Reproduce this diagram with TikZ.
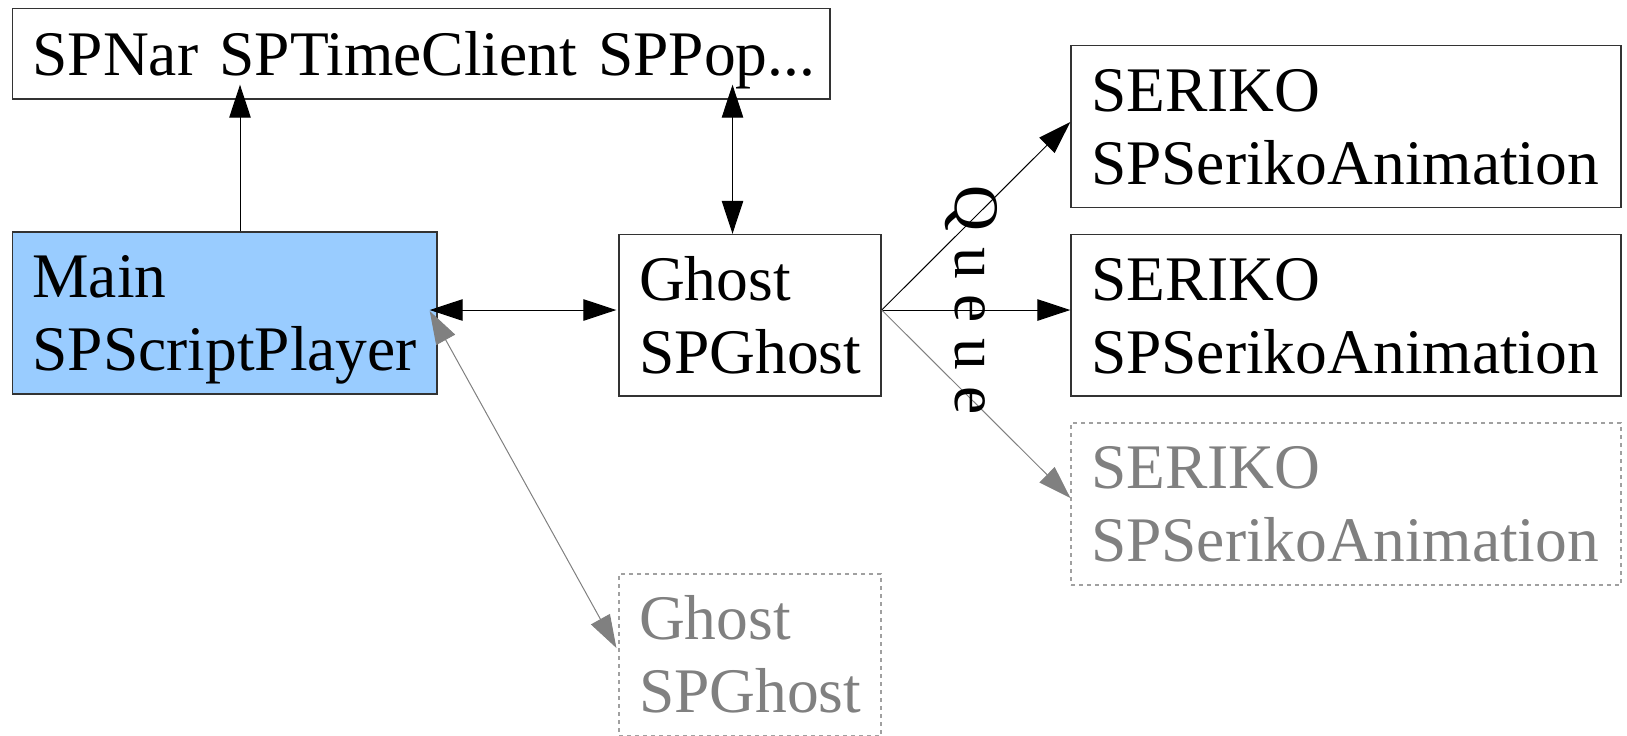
\documentclass[tikz,border=0pt]{standalone}
\usepackage{fontspec}
\setmainfont{Liberation Serif}
\usetikzlibrary{arrows.meta,calc}
\definecolor{mainblue}{HTML}{99CCFF}
\definecolor{edge}{HTML}{333333}
\definecolor{faded}{HTML}{808080}
\definecolor{fadededge}{HTML}{A0A0A0}
% struts giving every text block the same ascent / descent
\newcommand\hstrut{\rule{0pt}{0.891em}}
\newcommand\dstrut{\rule[-0.216em]{0pt}{0.216em}}

\begin{document}
\begin{tikzpicture}[x=0.5pt,y=-0.5pt,
  box/.style={draw=edge, line width=0.7pt, align=left, inner xsep=10pt, inner ysep=0pt,
    font=\fontsize{31.75pt}{36.48pt}\selectfont},
  ghostbox/.style={box, draw=fadededge, dash pattern=on 2pt off 2pt, text=faded, line width=0.6pt},
  link/.style={line width=0.5pt, -{Triangle[length=16.5pt,width=10.75pt]}},
  dlink/.style={line width=0.5pt, {Triangle[length=16.5pt,width=10.75pt]}-{Triangle[length=16.5pt,width=10.75pt]}},
  fadedlink/.style={dlink, draw=faded}
]
\useasboundingbox (0,0) rectangle (1627,735);

% boxes
\node[box, text width=388.75pt, minimum height=45.25pt] (top) at (421.25,53.75)
  {\hstrut\mbox{SPNar SPTimeClient SPPop...}\dstrut};
\node[box, fill=mainblue, text width=192.25pt, minimum height=81pt] (main) at (224.75,313)
  {\hstrut Main\\SPScriptPlayer\dstrut};
\node[box, text width=111pt, minimum height=80.75pt] (ghost) at (750,315.25)
  {\hstrut Ghost\\SPGhost\dstrut};
\node[box, text width=255pt, minimum height=81pt] (s1) at (1346,126.5)
  {\hstrut SERIKO\\SPSerikoAnimation\dstrut};
\node[box, text width=255pt, minimum height=80.75pt] (s2) at (1346,315.25)
  {\hstrut SERIKO\\SPSerikoAnimation\dstrut};
\node[ghostbox, text width=255pt, minimum height=81pt] (s3) at (1346,504)
  {\hstrut SERIKO\\SPSerikoAnimation\dstrut};
\node[ghostbox, text width=111pt, minimum height=81pt] (g2) at (750,655)
  {\hstrut Ghost\\SPGhost\dstrut};

% connectors
\draw[link, shorten >=-7.5pt] ([xshift=7.625pt]main.north) -- ([xshift=7.625pt]main.north |- top.south);
\draw[dlink, shorten >=-7.5pt] ([xshift=-8.75pt]ghost.north) -- ([xshift=-8.75pt]ghost.north |- top.south);
\draw[dlink, shorten >=1pt] ([xshift=-4pt,yshift=1.5pt]main.east) -- ([yshift=1.5pt]main.east -| ghost.west);

\coordinate (fan) at ([yshift=2.625pt]ghost.east);
\draw[link] (fan) -- ([yshift=2.25pt]s1.west);
\draw[link] (fan) -- (fan -| s2.west);
\draw[link, draw=faded] (fan) -- ([yshift=3pt]s3.west);

\draw[fadedlink] ([xshift=-4pt,yshift=1pt]main.east) -- ([xshift=-1pt,yshift=3.5pt]g2.west);

% queue label
\node[rotate=-90, anchor=base west, inner sep=0pt, font=\fontsize{31.75pt}{36.48pt}\selectfont]
  (queue) at (955,185) {Q u e u e};
\end{tikzpicture}
\end{document}
